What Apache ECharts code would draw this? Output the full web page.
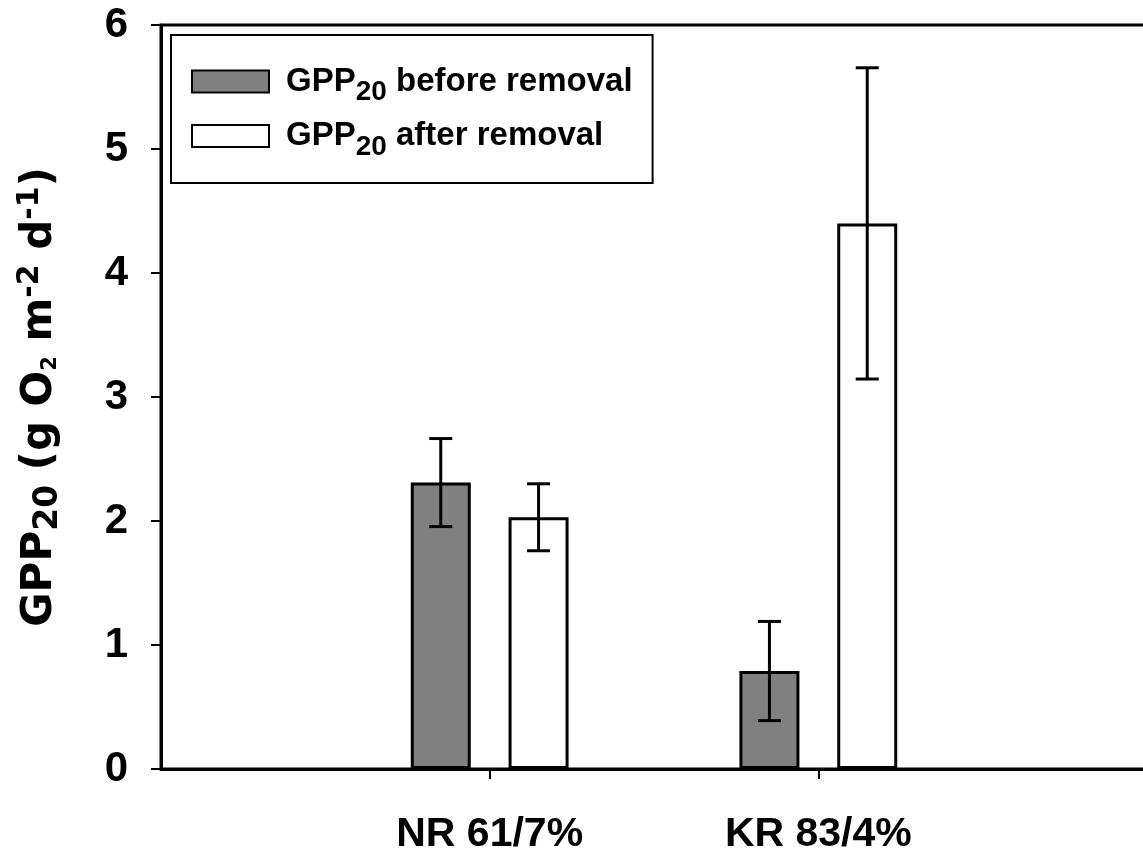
<!DOCTYPE html>
<html>
<head>
<meta charset="utf-8">
<script src="https://cdn.jsdelivr.net/npm/echarts@6/dist/echarts.min.js"></script>
<style>
  html, body { margin: 0; padding: 0; background: #fff; }
  #chart { width: 1143px; height: 855px; }
</style>
</head>
<body>
<div id="chart"></div>
<script>
// Sites and GPP20 values (g O2 m-2 d-1), mean and error half-width
const categories = ['NR 61/7%', 'KR 83/4%'];
const beforeMean = [2.31, 0.79];
const beforeErr  = [0.355, 0.40];
const afterMean  = [2.03, 4.40];
const afterErr   = [0.27, 1.255];
const seriesNames = ['before removal', 'after removal'];
const yTicks = [0, 1, 2, 3, 4, 5, 6];

// Bar geometry
const BAR_W = 60;
const BAR_GAP = 0.63;
const HALF_OFFSET = (BAR_W + BAR_W * BAR_GAP) / 2;
const CAP = 23;

const FONT = '"Liberation Sans", Arial, sans-serif';

// Padding slots on both sides of the two sites
const axisCats = [''].concat(categories, ['']);
const pad = arr => ['-'].concat(arr, ['-']);

function errData(mean, err) {
  return mean.map((m, i) => [i + 1, m - err[i], m + err[i]]);
}

function errRender(offsetSign) {
  return function (params, api) {
    const lo = api.coord([api.value(0), api.value(1)]);
    const hi = api.coord([api.value(0), api.value(2)]);
    const x = lo[0] + offsetSign * HALF_OFFSET;
    const style = { stroke: '#000', lineWidth: 3 };
    return {
      type: 'group',
      children: [
        { type: 'line', shape: { x1: x, y1: lo[1], x2: x, y2: hi[1] }, style },
        { type: 'line', shape: { x1: x - CAP / 2, y1: hi[1], x2: x + CAP / 2, y2: hi[1] }, style },
        { type: 'line', shape: { x1: x - CAP / 2, y1: lo[1], x2: x + CAP / 2, y2: lo[1] }, style }
      ]
    };
  };
}

const legendRich = {
  a: { fontFamily: FONT, fontWeight: 'bold', fontSize: 33, color: '#000', lineHeight: 34, padding: [0, 0, 0, 12], verticalAlign: 'middle' },
  m: { fontFamily: FONT, fontWeight: 'bold', fontSize: 33, color: '#000', lineHeight: 34, verticalAlign: 'middle' },
  s: { fontFamily: FONT, fontWeight: 'bold', fontSize: 28, color: '#000', lineHeight: 34, verticalAlign: 'bottom', padding: [0, 0, -8, 0] }
};

const NF = '"DejaVu Sans", sans-serif';
const nameRich = {
  m:  { fontFamily: NF, fontWeight: 'bold', fontSize: 42, color: '#000', lineHeight: 54, verticalAlign: 'middle' },
  s:  { fontFamily: NF, fontWeight: 'bold', fontSize: 33, color: '#000', lineHeight: 54, verticalAlign: 'bottom', padding: [0, 0, 2, 0] },
  s2: { fontFamily: NF, fontWeight: 'bold', fontSize: 21, color: '#000', lineHeight: 54, verticalAlign: 'bottom', padding: [0, 0, 6, 0] },
  p:  { fontFamily: NF, fontWeight: 'bold', fontSize: 30, color: '#000', lineHeight: 54, verticalAlign: 'top', padding: [2, 0, 0, 0] }
};

const chart = echarts.init(document.getElementById('chart'), null, { renderer: 'canvas' });

chart.setOption({
  animation: false,
  backgroundColor: '#fff',
  grid: {
    left: 161, width: 986, top: 25, bottom: 86,
    outerBoundsMode: 'none',
    containLabel: false,
    show: true, borderColor: '#000', borderWidth: 3, backgroundColor: 'transparent'
  },
  legend: {
    data: seriesNames,
    orient: 'vertical',
    left: 171, top: 35,
    padding: [30, 20, 22, 20],
    itemGap: 13,
    itemWidth: 77,
    itemHeight: 22,
    icon: 'rect',
    borderColor: '#000',
    borderWidth: 2,
    selectedMode: false,
    formatter: n => '{a|GPP}{s|20}{m| ' + n + '}',
    textStyle: { rich: legendRich }
  },
  xAxis: {
    type: 'category',
    data: axisCats,
    boundaryGap: false,
    axisLine: { lineStyle: { color: '#000', width: 3 } },
    axisTick: {
      show: true, length: 10, inside: false,
      interval: i => i > 0 && i < axisCats.length - 1,
      lineStyle: { color: '#000', width: 2 }
    },
    axisLabel: {
      interval: 0, margin: 45,
      fontFamily: FONT, fontWeight: 'bold', fontSize: 41, color: '#000'
    },
    splitLine: { show: false }
  },
  yAxis: {
    type: 'value',
    min: yTicks[0], max: yTicks[yTicks.length - 1], interval: 1,
    axisLine: { show: true, lineStyle: { color: '#000', width: 3 } },
    axisTick: { show: true, length: 10, lineStyle: { color: '#000', width: 2 } },
    axisLabel: {
      margin: 33,
      fontFamily: FONT, fontWeight: 'bold', fontSize: 42, color: '#000'
    },
    splitLine: { show: false },
    name: '{m|GPP}{s|20}{m| (g O}{s2|2}{m| m}{p|-2}{m| d}{p|-1}{m|)}',
    nameLocation: 'middle',
    nameGap: 94,
    nameTextStyle: { rich: nameRich }
  },
  series: [
    {
      name: seriesNames[0],
      type: 'bar',
      data: pad(beforeMean),
      barWidth: BAR_W,
      barGap: (BAR_GAP * 100) + '%',
      itemStyle: { color: '#808080', borderColor: '#000', borderWidth: 3 },
      z: 2
    },
    {
      name: seriesNames[1],
      type: 'bar',
      data: pad(afterMean),
      barWidth: BAR_W,
      barGap: (BAR_GAP * 100) + '%',
      itemStyle: { color: '#ffffff', borderColor: '#000', borderWidth: 3 },
      z: 2
    },
    {
      name: 'err-before',
      type: 'custom',
      data: errData(beforeMean, beforeErr),
      renderItem: errRender(-1),
      z: 5,
      silent: true
    },
    {
      name: 'err-after',
      type: 'custom',
      data: errData(afterMean, afterErr),
      renderItem: errRender(1),
      z: 5,
      silent: true
    }
  ]
});
</script>
</body>
</html>
